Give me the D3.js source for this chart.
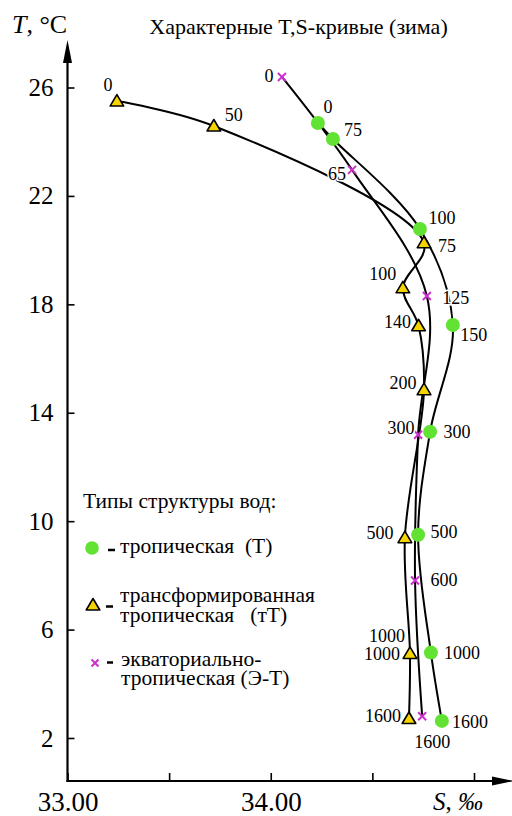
<!DOCTYPE html>
<html>
<head>
<meta charset="utf-8">
<script src="https://cdn.jsdelivr.net/npm/d3@7"></script>
<style>
  html, body { margin: 0; padding: 0; background: #fff; }
  svg, svg text { font-family: "Liberation Serif", "Times New Roman", Tinos, "DejaVu Serif", serif; }
  svg { display: block; }
</style>
</head>
<body>
<svg id="chart" width="512" height="816"></svg>
<script>
// Winter T,S-curves for three water-structure types.
// Each station: depth (m), salinity S (‰), temperature T (°C).

// tropical (Т)
const depthT = [0, 75, 100, 150, 300, 500, 1000, 1600];
const salT   = [34.232, 34.306, 34.734, 34.896, 34.784, 34.725, 34.788, 34.842];
const tempT  = [24.69, 24.10, 20.78, 17.24, 13.30, 9.50, 5.15, 2.63];

// transformed tropical (тТ)
const depthTT = [0, 50, 75, 100, 140, 200, 500, 1000, 1600];
const salTT   = [33.243, 33.72, 34.754, 34.65, 34.727, 34.754, 34.66, 34.685, 34.68];
const tempTT  = [25.50, 24.58, 20.27, 18.61, 17.21, 14.85, 9.39, 5.12, 2.72];

// equatorial-tropical (Э-Т)
const depthET = [0, 65, 125, 300, 600, 1600];
const salET   = [34.055, 34.40, 34.768, 34.725, 34.71, 34.745];
const tempET  = [26.39, 22.96, 18.31, 13.19, 7.81, 2.80];

// axis ticks
const tempTicks = [26, 22, 18, 14, 10, 6, 2];
const salTicks = [33, 33.5, 34, 34.5, 35];
const salTickLabels = { 33: "33.00", 34: "34.00" };

// legend entries
const legendTitle = "Типы структуры вод:";
const legendT  = ["тропическая\u00a0\u00a0(Т)"];
const legendTT = ["трансформированная", "тропическая\u00a0\u00a0\u00a0(тТ)"];
const legendET = ["экваториально-", "тропическая (Э-Т)"];

// placement of depth labels relative to their marker (px)
const offT  = [[10,-16],[20,-9],[22,-11],[21,10],[27,0],[26,-3],[31,0],[28,1]];
const offTT = [[-9,-16],[20,-11],[23,3],[-20,-14],[-21,-4],[-21,-7],[-25,-5],[-28,1],[-26,-2]];
const offET = [[-13,-1],[-15,4],[29,2],[-17,-7],[29,-1],[10,26]];

const SERIF = '"Liberation Serif", "Times New Roman", Tinos, "DejaVu Serif", serif';
const GREEN = "#62e232", YELLOW = "#f6d400", MAGENTA = "#cc2fcc";

const svg = d3.select("#chart").attr("font-family", SERIF);

const x = d3.scaleLinear().domain([33, 35]).range([67.5, 474]);
const y = d3.scaleLinear().domain([2, 26]).range([738, 87.5]);
const x0 = x(33), yBase = 781;

const zip = (d, s, t) => d.map((v, i) => ({ depth: v, s: s[i], t: t[i] }));
const ptsT = zip(depthT, salT, tempT);
const ptsTT = zip(depthTT, salTT, tempTT);
const ptsET = zip(depthET, salET, tempET);

// ---- axes ----
const gx = svg.append("g").attr("transform", `translate(0,${yBase})`)
  .call(d3.axisBottom(x).tickValues(salTicks).tickSizeInner(-8).tickSizeOuter(0)
    .tickFormat(d => salTickLabels[d] || ""));
gx.attr("font-family", SERIF).attr("font-size", 27);
gx.select(".domain").remove();
gx.selectAll(".tick line").attr("stroke", "#000").attr("stroke-width", 1.6);
gx.selectAll(".tick text").attr("y", 30).attr("dy", null).attr("fill", "#000");

const gy = svg.append("g").attr("transform", `translate(${x0},0)`)
  .call(d3.axisLeft(y).tickValues(tempTicks).tickSizeInner(-7).tickSizeOuter(0).tickPadding(14)
    .tickFormat(d3.format("d")));
gy.attr("font-family", SERIF).attr("font-size", 25);
gy.select(".domain").remove();
gy.selectAll(".tick line").attr("stroke", "#000").attr("stroke-width", 1.6);
gy.selectAll(".tick text").attr("fill", "#000");

// axis lines with arrowheads
svg.append("line").attr("x1", x0).attr("x2", x0).attr("y1", yBase + 1).attr("y2", 58)
  .attr("stroke", "#000").attr("stroke-width", 2.2);
svg.append("path").attr("d", `M${x0},40 L${x0 + 4.5},63 L${x0 - 4.5},63 Z`).attr("fill", "#000");
svg.append("line").attr("x1", x0 - 1).attr("x2", 496).attr("y1", yBase).attr("y2", yBase)
  .attr("stroke", "#000").attr("stroke-width", 2.2);
svg.append("path").attr("d", `M514,${yBase} L492,${yBase - 4.5} L492,${yBase + 4.5} Z`).attr("fill", "#000");

// axis titles
svg.append("text").attr("x", 12).attr("y", 33).attr("font-size", 26)
  .html('<tspan font-style="italic">T</tspan>, °C');
svg.append("text").attr("x", 433).attr("y", 810).attr("font-size", 25)
  .html('<tspan font-style="italic">S</tspan>, <tspan font-style="italic">‰</tspan>');

// chart title
svg.append("text").attr("x", 298.5).attr("y", 34).attr("text-anchor", "middle")
  .attr("font-size", 22).text("Характерные T,S-кривые (зима)");

// ---- curves ----
const line = d3.line().x(d => x(d.s)).y(d => y(d.t)).curve(d3.curveCatmullRom.alpha(0.5));
[ptsTT, ptsET, ptsT].forEach(p => {
  svg.append("path").attr("d", line(p)).attr("fill", "none")
    .attr("stroke", "#000").attr("stroke-width", 2);
});

// ---- markers ----
const triPath = "M0,-6.5 L6.8,5 L-6.8,5 Z";
function drawCircle(g, cx, cy, r) {
  g.append("circle").attr("cx", cx).attr("cy", cy).attr("r", r).attr("fill", GREEN);
}
function drawTri(g, cx, cy) {
  g.append("path").attr("d", triPath).attr("transform", `translate(${cx},${cy})`)
    .attr("fill", YELLOW).attr("stroke", "#000").attr("stroke-width", 1.6).attr("stroke-linejoin", "round");
}
function drawCross(g, cx, cy, h) {
  g.append("path").attr("d", `M${-h},${-h}L${h},${h}M${-h},${h}L${h},${-h}`)
    .attr("transform", `translate(${cx},${cy})`).attr("stroke", MAGENTA).attr("stroke-width", 2);
}

const gm = svg.append("g");
ptsTT.forEach(d => drawTri(gm, x(d.s), y(d.t)));
ptsET.forEach(d => drawCross(gm, x(d.s), y(d.t), 4));
ptsT.forEach(d => drawCircle(gm, x(d.s), y(d.t), 7));

// ---- depth labels ----
const gl = svg.append("g").attr("font-size", 18).attr("text-anchor", "middle");
function depthLabels(pts, offs) {
  pts.forEach((d, i) => {
    gl.append("text").attr("x", x(d.s) + offs[i][0]).attr("y", y(d.t) + offs[i][1] + 6)
      .attr("stroke", "#fff").attr("stroke-width", 3).attr("paint-order", "stroke")
      .text(d.depth);
  });
}
depthLabels(ptsT, offT);
depthLabels(ptsTT, offTT);
depthLabels(ptsET, offET);
// second 1000 m label stacked above the transformed-tropical one
{
  const d = ptsTT[7];
  gl.append("text").attr("x", x(d.s) - 23).attr("y", y(d.t) - 17 + 6).text(d.depth);
}

// ---- legend ----
const lg = svg.append("g").attr("font-size", 21.5);
lg.append("text").attr("x", 83).attr("y", 508).text(legendTitle);

drawCircle(lg, 92, 548, 6.8);
lg.append("line").attr("x1", 108).attr("x2", 115).attr("y1", 550).attr("y2", 550).attr("stroke", "#000").attr("stroke-width", 2.5);
lg.append("text").attr("x", 120).attr("y", 553).text(legendT[0]);

drawTri(lg, 93, 605);
lg.append("line").attr("x1", 106).attr("x2", 113).attr("y1", 606.5).attr("y2", 606.5).attr("stroke", "#000").attr("stroke-width", 2.5);
lg.append("text").attr("x", 120).attr("y", 602).text(legendTT[0]);
lg.append("text").attr("x", 120).attr("y", 622).text(legendTT[1]);

drawCross(lg, 95, 663, 3.5);
lg.append("line").attr("x1", 107).attr("x2", 113).attr("y1", 662.5).attr("y2", 662.5).attr("stroke", "#000").attr("stroke-width", 2.5);
lg.append("text").attr("x", 121).attr("y", 666).text(legendET[0]);
lg.append("text").attr("x", 121).attr("y", 685).text(legendET[1]);
</script>
</body>
</html>
